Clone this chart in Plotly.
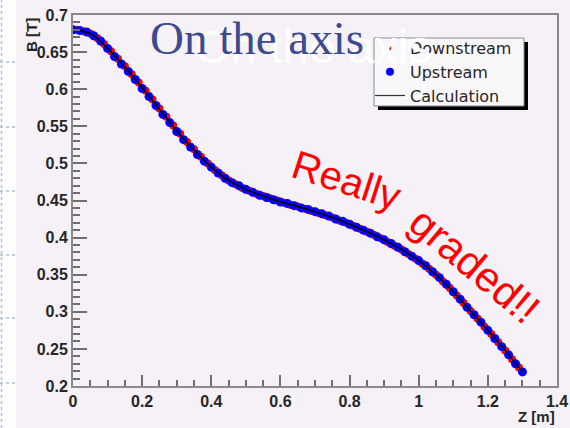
import numpy as np
import plotly.graph_objects as go

# ---------------- data ----------------
z_up = [0.00, 0.02, 0.04, 0.06, 0.08, 0.10, 0.12, 0.14, 0.16, 0.18,
        0.20, 0.22, 0.24, 0.26, 0.28, 0.30, 0.32, 0.34, 0.36, 0.38,
        0.40, 0.42, 0.44, 0.46, 0.48, 0.50, 0.52, 0.54, 0.56, 0.58,
        0.60, 0.62, 0.64, 0.66, 0.68, 0.70, 0.72, 0.74, 0.76, 0.78,
        0.80, 0.82, 0.84, 0.86, 0.88, 0.90, 0.92, 0.94, 0.96, 0.98,
        1.00, 1.02, 1.04, 1.06, 1.08, 1.10, 1.12, 1.14, 1.16, 1.18,
        1.20, 1.22, 1.24, 1.26, 1.28, 1.30]
b_up = [0.680, 0.679, 0.677, 0.672, 0.665, 0.655, 0.644, 0.634, 0.624, 0.613,
        0.601, 0.590, 0.578, 0.566, 0.555, 0.543, 0.532, 0.522, 0.512, 0.503,
        0.495, 0.487, 0.480, 0.474, 0.470, 0.465, 0.461, 0.457, 0.454, 0.451,
        0.448, 0.446, 0.443, 0.440, 0.438, 0.435, 0.432, 0.429, 0.425, 0.422,
        0.418, 0.414, 0.410, 0.406, 0.401, 0.397, 0.392, 0.387, 0.381, 0.375,
        0.369, 0.362, 0.354, 0.346, 0.337, 0.327, 0.317, 0.306, 0.296, 0.286,
        0.275, 0.264, 0.253, 0.242, 0.230, 0.219]

z_down = [0.01, 0.03, 0.05, 0.07, 0.09, 0.11, 0.13, 0.15, 0.17, 0.19,
          0.21, 0.23, 0.25, 0.27, 0.29, 0.31, 0.33, 0.35, 0.37, 0.39,
          0.41, 0.43, 0.45, 0.47, 0.49, 0.51, 0.53, 0.55, 0.57, 0.59,
          0.61, 0.63, 0.65, 0.67, 0.69, 0.71, 0.73, 0.75, 0.77, 0.79,
          0.81, 0.83, 0.85, 0.87, 0.89, 0.91, 0.93, 0.95, 0.97, 0.99,
          1.01, 1.03, 1.05, 1.07, 1.09, 1.11, 1.13, 1.15, 1.17, 1.19,
          1.21, 1.23, 1.25, 1.27, 1.29]
b_down = [0.680, 0.678, 0.675, 0.669, 0.661, 0.651, 0.641, 0.631, 0.620, 0.609,
          0.598, 0.586, 0.574, 0.563, 0.551, 0.540, 0.529, 0.519, 0.509, 0.500,
          0.491, 0.484, 0.477, 0.472, 0.467, 0.463, 0.459, 0.456, 0.453, 0.450,
          0.447, 0.444, 0.442, 0.439, 0.436, 0.433, 0.430, 0.427, 0.423, 0.420,
          0.416, 0.412, 0.408, 0.404, 0.399, 0.394, 0.389, 0.384, 0.378, 0.372,
          0.365, 0.358, 0.350, 0.341, 0.332, 0.322, 0.312, 0.301, 0.291, 0.280,
          0.270, 0.259, 0.248, 0.236, 0.225]

z_calc = [0.00, 0.05, 0.10, 0.15, 0.20, 0.25, 0.30, 0.35, 0.40, 0.45,
          0.50, 0.55, 0.60, 0.65, 0.70, 0.75, 0.80, 0.85, 0.90, 0.95,
          1.00, 1.05, 1.10, 1.15, 1.20, 1.25, 1.30]
b_calc = [0.680, 0.675, 0.655, 0.630, 0.602, 0.573, 0.544, 0.518, 0.495, 0.477,
          0.465, 0.456, 0.448, 0.442, 0.435, 0.427, 0.418, 0.408, 0.397, 0.384,
          0.369, 0.350, 0.327, 0.301, 0.275, 0.248, 0.219]

x_tickvals = [0, 0.2, 0.4, 0.6, 0.8, 1.0, 1.2, 1.4]
x_ticktext = ["0", "0.2", "0.4", "0.6", "0.8", "1", "1.2", "1.4"]
y_tickvals = [0.2, 0.25, 0.3, 0.35, 0.4, 0.45, 0.5, 0.55, 0.6, 0.65, 0.7]
y_ticktext = ["0.2", "0.25", "0.3", "0.35", "0.4", "0.45", "0.5", "0.55", "0.6", "0.65", "0.7"]

series_names = ["Downstream", "Upstream", "Calculation"]

# ---------------- layout helpers ----------------
W, H = 570, 428
ML, MR, MT, MB = 73, 13, 15, 42
PW, PH = W - ML - MR, H - MT - MB


def px(x):
    return (x - ML) / PW


def py(y):
    return (H - MB - y) / PH


BG = "#f5f1f6"
SANS = "Liberation Sans, Arial, Helvetica, sans-serif"
SERIF = "Liberation Serif, Times New Roman, serif"

fig = go.Figure()

fig.add_trace(go.Scatter(x=z_down, y=b_down, mode="markers", name=series_names[0],
                         marker=dict(color="#ff0000", size=8, line=dict(width=0)),
                         showlegend=False))
fig.add_trace(go.Scatter(x=z_up, y=b_up, mode="markers", name=series_names[1],
                         marker=dict(color="#0000ff", size=9, line=dict(width=0)),
                         showlegend=False))
fig.add_trace(go.Scatter(x=z_calc, y=b_calc, mode="lines", name=series_names[2],
                         line=dict(color="#000000", width=1.5, shape="spline"),
                         showlegend=False))

# legend entries
fig.add_trace(go.Scatter(x=[None], y=[None], mode="markers", name=series_names[0],
                         marker=dict(color="#ff0000", size=4, symbol="diamond-tall")))
fig.add_trace(go.Scatter(x=[None], y=[None], mode="markers", name=series_names[1],
                         marker=dict(color="#0000ff", size=8)))
fig.add_trace(go.Scatter(x=[None], y=[None], mode="lines", name=series_names[2],
                         line=dict(color="#333333", width=1.2)))

axis_common = dict(
    showline=True, linecolor="#8a8a8a", linewidth=2, mirror=True,
    ticks="inside", tickcolor="#6f6f6f", tickwidth=1.5,
    showgrid=False, zeroline=False, automargin=False,
    tickfont=dict(family=SANS, size=16, color="#262626", weight="bold"),
)

fig.update_xaxes(range=[0, 1.4], tickmode="array", tickvals=x_tickvals,
                 ticktext=x_ticktext, ticklen=11,
                 minor=dict(tickmode="array", tickvals=list(np.round(np.arange(0, 1.401, 0.05), 3)),
                            ticks="inside", ticklen=6, tickcolor="#6f6f6f", tickwidth=1.5),
                 **axis_common)
fig.update_yaxes(range=[0.2, 0.7], tickmode="array", tickvals=y_tickvals,
                 ticktext=y_ticktext, ticklen=14,
                 minor=dict(tickmode="array", tickvals=list(np.round(np.arange(0.2, 0.701, 0.01), 3)),
                            ticks="inside", ticklen=7, tickcolor="#6f6f6f", tickwidth=1.5),
                 **axis_common)

shapes = []
# left white strip of the slide with dotted guide lines
shapes.append(dict(type="rect", xref="paper", yref="paper", x0=px(0), x1=px(16),
                   y0=py(H), y1=py(0), fillcolor="#ffffff", line=dict(width=0), layer="below"))
shapes.append(dict(type="line", xref="paper", yref="paper", x0=px(1.5), x1=px(1.5),
                   y0=py(H), y1=py(0), line=dict(color="#a9bfe6", width=1.5, dash="dot"),
                   layer="below"))
for yy in [62, 127, 191, 255, 318, 383]:
    shapes.append(dict(type="line", xref="paper", yref="paper", x0=px(0), x1=px(16),
                       y0=py(yy), y1=py(yy), line=dict(color="#a9bfe6", width=1.5, dash="dot"),
                       layer="below"))
# legend box with drop shadow
shapes.append(dict(type="rect", xref="paper", yref="paper", x0=px(378), x1=px(528),
                   y0=py(110), y1=py(42), fillcolor="#000000", line=dict(width=0),
                   layer="above"))
shapes.append(dict(type="rect", xref="paper", yref="paper", x0=px(374), x1=px(524),
                   y0=py(106), y1=py(38), fillcolor="#f9f7fa",
                   line=dict(color="#8a8a8a", width=1), layer="above"))
fig.update_layout(shapes=shapes)

annotations = [
    # ghost white title
    dict(text="On the axis", xref="paper", yref="paper", x=px(192), y=py(47),
         xanchor="left", yanchor="middle", showarrow=False,
         font=dict(family=SANS, size=47, color="rgba(255,255,255,0.95)")),
    # main title
    dict(text="On the axis", xref="paper", yref="paper", x=px(148), y=py(38),
         xanchor="left", yanchor="middle", showarrow=False,
         font=dict(family=SERIF, size=47, color="#3d4a8e")),
    dict(text="Really", xref="paper", yref="paper", x=px(346), y=py(180),
         xanchor="center", yanchor="middle", showarrow=False, textangle=18,
         font=dict(family=SANS, size=40, color="#ff0000")),
    dict(text="graded!!", xref="paper", yref="paper", x=px(475), y=py(265),
         xanchor="center", yanchor="middle", showarrow=False, textangle=40,
         font=dict(family=SANS, size=42, color="#ff0000")),
    dict(text="B [T]", xref="paper", yref="paper", x=px(31), y=py(35),
         xanchor="center", yanchor="middle", showarrow=False, textangle=-90,
         font=dict(family=SANS, size=15, color="#262626", weight="bold")),
    dict(text="Z [m]", xref="paper", yref="paper", x=px(536), y=py(416),
         xanchor="center", yanchor="middle", showarrow=False,
         font=dict(family=SANS, size=15, color="#262626", weight="bold")),
]
fig.update_layout(annotations=annotations)

fig.update_layout(
    width=W, height=H,
    margin=dict(l=ML, r=MR, t=MT, b=MB, pad=0, autoexpand=False),
    paper_bgcolor=BG, plot_bgcolor=BG,
    legend=dict(x=px(370), y=py(31), xanchor="left", yanchor="top",
                bgcolor="rgba(0,0,0,0)", borderwidth=0,
                font=dict(family="DejaVu Sans, sans-serif", size=16, color="#262626"),
                tracegroupgap=0, itemwidth=30),
)

fig.write_html("out.html")
